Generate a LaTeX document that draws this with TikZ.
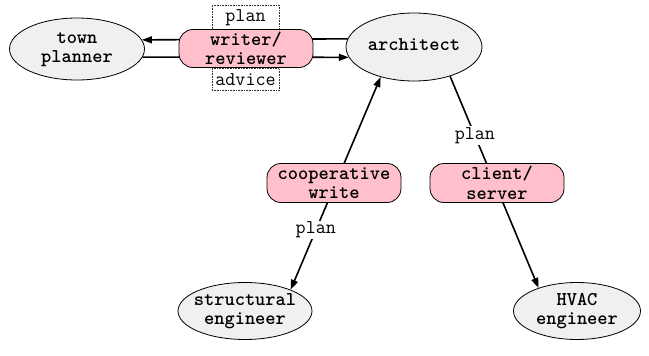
\documentclass[tikz,border=0pt]{standalone}
\usepackage{fontspec}
\usetikzlibrary{arrows.meta,shapes.geometric}
\definecolor{ellfill}{HTML}{F0F0F0}
\definecolor{boxfill}{HTML}{FFC0CB}
\newcommand{\ztxt}[1]{\makebox[0pt]{\begin{tabular}{@{}c@{}}#1\end{tabular}}}
\newcommand{\cmono}{\ttfamily\fontsize{19.5}{19.5}\selectfont}
\begin{document}
\begin{tikzpicture}[x=1pt,y=-1pt,
  txt/.style={font=\cmono},
  ell/.style={ellipse, draw=black, line width=0.8pt, fill=ellfill, inner sep=0pt,
    font=\cmono\bfseries},
  pill/.style={rectangle, rounded corners=14pt, draw=black, line width=0.8pt, fill=boxfill,
    minimum width=134pt, minimum height=38pt, inner sep=0pt, align=center,
    font=\cmono\bfseries},
  conn/.style={line width=1.6pt},
  arr/.style={conn, -{Triangle[length=10pt,width=7pt]}},
  lab/.style={txt, fill=white, inner sep=1pt},
  dotbox/.style={txt, draw=black!80, densely dotted, line width=0.6pt, fill=white,
    minimum width=67pt, inner sep=0pt}
]
\useasboundingbox (0,0) rectangle (649,356);

% ellipses
\node[ell, minimum width=135pt, minimum height=62pt] (tp) at (77,49) {\ztxt{town\\planner}};
\node[ell, minimum width=136pt, minimum height=68pt] (arch) at (414,47) {\ztxt{architect}};
\node[ell, minimum width=134pt, minimum height=57pt] (se) at (245,311) {\ztxt{structural\\engineer}};
\node[ell, minimum width=127pt, minimum height=57pt] (hvac) at (577,311) {\ztxt{HVAC\\engineer}};

% connectors
\draw[arr] (arch.173.1) -- (tp.8.9);
\draw[arr] (tp.-7.9) -- (arch.189.7);
\draw[arr, {Triangle[length=10pt,width=7pt]}-{Triangle[length=10pt,width=7pt]}] (se.25.6) -- node[lab, pos=0.28] (l3) {plan} (arch.222.4);
\draw[arr] (arch.321) -- node[lab, pos=0.28] (l4) {plan} (hvac.149.5);

% labels of top connectors
\node[dotbox, minimum height=25pt] (l1) at (245.5,17.5) {plan};
\node[dotbox, minimum height=22pt] (l2) at (245.5,79.5) {advice};

% pill boxes
\node[pill] (wr) at (246,48.5) {writer/\\reviewer};
\node[pill, minimum height=39pt] (coop) at (334,183) {cooperative\\write};
\node[pill, minimum height=39pt] (cs) at (497,183) {client/\\server};
\end{tikzpicture}
\end{document}
